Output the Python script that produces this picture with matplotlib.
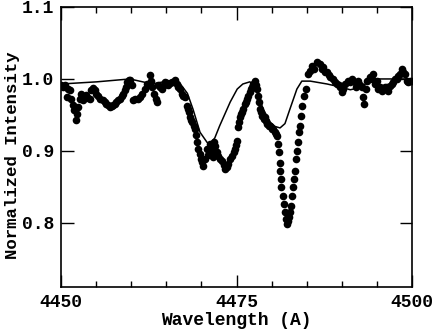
"""
Observed He I 4471 / Mg II 4481 region against the model spectrum.
"""

import matplotlib
matplotlib.use("Agg")
import matplotlib.pyplot as plt
from matplotlib.ticker import MultipleLocator

# observed spectrum (wavelength in A, normalized intensity)
obs_wave = [
    4450.00, 4450.28, 4450.57, 4450.85, 4451.00, 4451.28, 4451.42, 4451.71, 4451.85, 4452.14,
    4452.28, 4452.42, 4452.71, 4452.85, 4453.13, 4453.42, 4453.56, 4453.85, 4454.13, 4454.27,
    4454.56, 4454.84, 4454.99, 4455.27, 4455.56, 4455.98, 4456.27, 4456.41, 4456.70, 4456.98,
    4457.26, 4457.41, 4457.69, 4457.83, 4458.12, 4458.40, 4458.69, 4458.83, 4459.12, 4459.26,
    4459.40, 4459.69, 4459.83, 4460.11, 4460.26, 4460.54, 4460.97, 4461.25, 4461.54, 4461.97,
    4462.25, 4462.68, 4462.82, 4462.96, 4463.25, 4463.53, 4463.68, 4463.82, 4464.10, 4464.39,
    4464.67, 4464.81, 4465.10, 4465.24, 4465.53, 4465.81, 4466.10, 4466.24, 4466.52, 4466.67,
    4466.95, 4467.24, 4467.38, 4467.66, 4467.95, 4468.09, 4468.23, 4468.38, 4468.52, 4468.66,
    4468.95, 4469.09, 4469.23, 4469.37, 4469.52, 4469.80, 4469.94, 4470.09, 4470.23, 4470.51,
    4470.80, 4470.94, 4471.23, 4471.37, 4471.51, 4471.65, 4471.79, 4471.94, 4472.08, 4472.22,
    4472.36, 4472.65, 4472.93, 4473.22, 4473.36, 4473.65, 4473.79, 4474.07, 4474.36, 4474.64,
    4474.79, 4474.93, 4475.07, 4475.21, 4475.36, 4475.50, 4475.64, 4475.78, 4475.93, 4476.21,
    4476.35, 4476.50, 4476.64, 4476.92, 4477.07, 4477.21, 4477.35, 4477.64, 4477.78, 4477.92,
    4478.06, 4478.21, 4478.35, 4478.49, 4478.63, 4478.92, 4479.06, 4479.20, 4479.34, 4479.63,
    4479.77, 4480.06, 4480.20, 4480.48, 4480.63, 4480.77, 4480.91, 4481.05, 4481.19, 4481.26,
    4481.34, 4481.40, 4481.55, 4481.76, 4481.91, 4482.05, 4482.19, 4482.33, 4482.48, 4482.62,
    4482.76, 4482.91, 4483.05, 4483.19, 4483.33, 4483.48, 4483.62, 4483.76, 4483.90, 4484.05,
    4484.19, 4484.33, 4484.62, 4484.90, 4485.19, 4485.47, 4485.75, 4486.04, 4486.47, 4486.89,
    4487.18, 4487.32, 4487.61, 4487.89, 4488.18, 4488.32, 4488.75, 4489.03, 4489.32, 4489.60,
    4489.74, 4490.03, 4490.17, 4490.46, 4490.88, 4491.17, 4491.45, 4491.88, 4492.02, 4492.31,
    4492.59, 4492.88, 4493.02, 4493.16, 4493.45, 4493.59, 4494.02, 4494.30, 4494.44, 4494.73,
    4495.01, 4495.16, 4495.44, 4495.73, 4495.87, 4496.15, 4496.44, 4496.58, 4496.87, 4497.15,
    4497.29, 4497.58, 4497.86, 4498.00, 4498.29, 4498.58, 4498.72, 4499.00, 4499.29, 4499.43,
    4499.72, 4500.00,
]
obs_flux = [
    0.992, 0.989, 0.992, 0.975, 0.986, 0.985, 0.972, 0.964, 0.957, 0.943,
    0.951, 0.961, 0.972, 0.979, 0.971, 0.975, 0.978, 0.974, 0.972, 0.985,
    0.987, 0.985, 0.979, 0.976, 0.972, 0.971, 0.968, 0.965, 0.964, 0.961,
    0.963, 0.964, 0.965, 0.968, 0.971, 0.972, 0.976, 0.979, 0.985, 0.989,
    0.996, 0.999, 0.999, 0.992, 0.971, 0.972, 0.972, 0.975, 0.979, 0.986,
    0.993, 1.006, 0.997, 0.989, 0.979, 0.972, 0.968, 0.992, 0.989, 0.986,
    0.992, 0.996, 0.994, 0.992, 0.994, 0.996, 0.996, 0.999, 0.993, 0.989,
    0.986, 0.979, 0.976, 0.975, 0.963, 0.958, 0.954, 0.947, 0.943, 0.940,
    0.935, 0.931, 0.922, 0.912, 0.903, 0.896, 0.889, 0.885, 0.879, 0.889,
    0.903, 0.894, 0.910, 0.899, 0.903, 0.892, 0.912, 0.907, 0.896, 0.899,
    0.893, 0.889, 0.886, 0.881, 0.875, 0.878, 0.882, 0.889, 0.893, 0.899,
    0.903, 0.908, 0.914, 0.933, 0.940, 0.947, 0.951, 0.954, 0.958, 0.965,
    0.968, 0.972, 0.976, 0.982, 0.986, 0.989, 0.993, 0.997, 0.992, 0.986,
    0.976, 0.968, 0.958, 0.954, 0.949, 0.944, 0.947, 0.942, 0.938, 0.935,
    0.935, 0.931, 0.931, 0.926, 0.924, 0.921, 0.910, 0.899, 0.883, 0.872,
    0.861, 0.850, 0.838, 0.826, 0.815, 0.806, 0.799, 0.803, 0.808, 0.815,
    0.824, 0.838, 0.850, 0.861, 0.872, 0.889, 0.900, 0.912, 0.926, 0.935,
    0.949, 0.963, 0.976, 0.986, 1.007, 1.011, 1.018, 1.014, 1.024, 1.021,
    1.014, 1.017, 1.010, 1.010, 1.006, 1.003, 1.000, 0.996, 0.993, 0.992,
    0.989, 0.982, 0.986, 0.993, 0.997, 0.996, 1.000, 0.996, 0.989, 0.997,
    0.992, 0.989, 0.975, 0.965, 0.986, 0.997, 1.003, 1.000, 1.007, 0.993,
    0.997, 0.986, 0.989, 0.983, 0.986, 0.989, 0.989, 0.983, 0.990, 0.993,
    0.996, 1.000, 1.000, 1.004, 1.007, 1.014, 1.010, 1.007, 0.997, 0.996,
    0.997, 0.997,
]

# model spectrum
model_wave = [
    4450.0, 4455.1, 4459.8, 4463.0, 4465.1, 4467.0, 4468.0, 4468.8, 4469.8, 4470.8,
    4471.2, 4471.9, 4472.6, 4474.1, 4475.1, 4475.9, 4476.9, 4477.6, 4478.1, 4478.8,
    4479.8, 4480.5, 4481.2, 4481.9, 4482.6, 4483.6, 4484.3, 4485.5, 4487.9, 4489.7,
    4491.2, 4492.6, 4494.4, 4500.0,
]
model_flux = [
    0.993, 0.996, 1.000, 0.993, 0.997, 0.993, 0.980, 0.958, 0.926, 0.912,
    0.910, 0.918, 0.935, 0.968, 0.986, 0.993, 0.996, 0.990, 0.978, 0.958,
    0.940, 0.934, 0.932, 0.938, 0.958, 0.986, 0.997, 0.997, 0.993, 0.989,
    0.985, 0.988, 1.000, 1.000,
]

font = {"family": "Liberation Mono", "weight": "bold", "size": 13}
yfont = {"family": "Liberation Mono", "weight": "bold", "size": 12.5}

fig = plt.figure(figsize=(4.36, 3.30), dpi=100)
ax = fig.add_axes([0.14, 0.13, 0.805, 0.849])

ax.plot(obs_wave, obs_flux, "o", color="black", markersize=5.5, markeredgewidth=0)
ax.plot(model_wave, model_flux, "-", color="black", linewidth=1.1)

ax.set_xlim(4450, 4500)
ax.set_ylim(0.711, 1.1)
ax.xaxis.set_major_locator(MultipleLocator(25))
ax.xaxis.set_minor_locator(MultipleLocator(5))
ax.yaxis.set_major_locator(MultipleLocator(0.1))
ax.yaxis.set_major_formatter(plt.FormatStrFormatter("%.1f"))

ax.tick_params(which="both", direction="in", top=True, right=True, width=1.0)
ax.tick_params(which="major", length=9, pad=5)
ax.tick_params(which="minor", length=4.5)
for sp in ax.spines.values():
    sp.set_linewidth(1.2)

for lab in ax.get_xticklabels() + ax.get_yticklabels():
    lab.set_fontproperties(font)
ax.set_xlabel("Wavelength (A)", fontdict=font, labelpad=1)
ax.set_ylabel("Normalized Intensity", fontdict=yfont)
ax.yaxis.set_label_coords(-0.118, 0.47)

fig.savefig("out.png", dpi=100)
